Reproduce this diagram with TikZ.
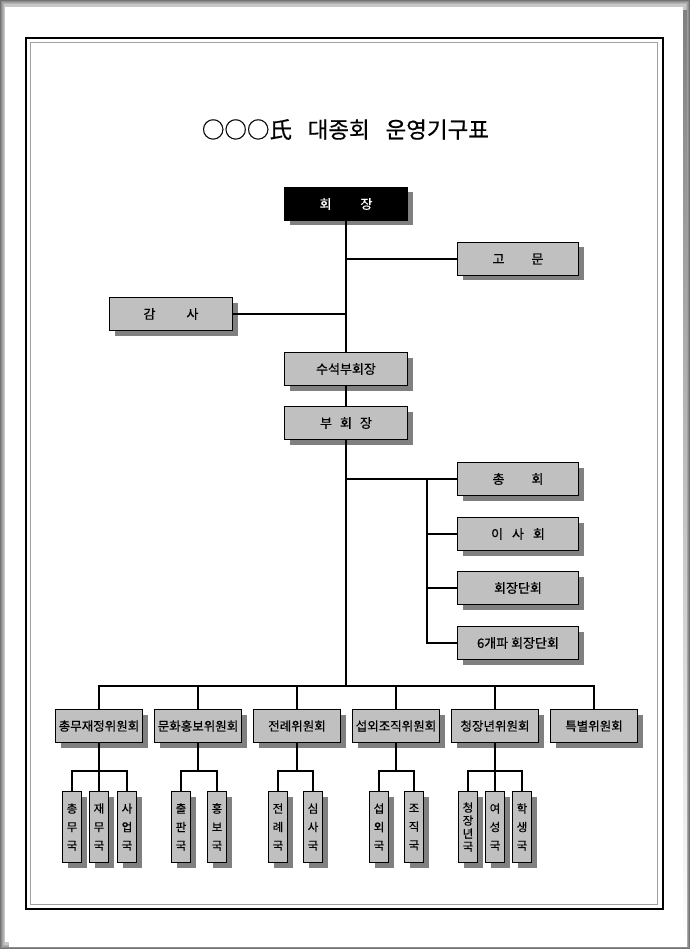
\documentclass[tikz,border=0pt]{standalone}
\usepackage{fontspec}
\setmainfont{Noto Sans CJK KR}[FakeBold=0.5]
\usetikzlibrary{shadows}
\definecolor{ink}{HTML}{000000}
\definecolor{panel}{HTML}{C0C0C0}
\definecolor{shade}{HTML}{808080}
\definecolor{rim}{HTML}{A0A0A0}
\tikzset{link/.style={draw=ink,line width=2pt},
  post/.style={draw=ink,fill=panel,line width=1pt,inner sep=0pt,
    drop shadow={fill=shade,opacity=1,draw=none,shadow xshift=5pt,shadow yshift=-5pt}},
  upper/.style={post,minimum width=123pt,minimum height=33pt,font=\fontsize{13}{15}\selectfont},
  chief/.style={upper,fill=ink,text=white},
  cmte/.style={post,minimum width=87pt,minimum height=33pt,font=\fontsize{12.5}{14}\selectfont},
  dept/.style={post,minimum width=19pt,minimum height=71pt,align=center,font=\fontsize{11.5}{18.5}\selectfont}}

\begin{document}
\begin{tikzpicture}[x=1pt,y=-1pt]
  \useasboundingbox (0,0) rectangle (690,949);
  \fill[black!22] (0,0) rectangle (690,949);
  \foreach \k/\g in {0.5/55,1.5/45,2.5/37,3.5/30}
    \draw[black!\g,line width=1pt] (\k,\k) rectangle (690-\k,949-\k);
  \fill[shade] (9,11) rectangle (687,946);
  \fill[white] (5,7) rectangle (683,942);
  \draw[ink,line width=2pt] (25.8,38.3) rectangle (662.8,908.7);
  \draw[rim,line width=1.3pt] (30.2,42.5) rectangle (657.5,904.8);

  \node (title) at (345.5,129.5) {\fontsize{22.5}{26}\selectfont ○○○氏\hspace{0.7em}대종회\hspace{0.7em}운영기구표};

  \node[chief] (chair) at (346,204) {회\hspace{29pt}장};
  \node[upper,minimum width=121pt] (adv) at (518,259) {고\hspace{27pt}문};
  \node[upper] (audit) at (171,314) {감\hspace{31pt}사};
  \node[upper] (svp) at (346,369) {수석부회장};
  \node[upper] (vp) at (346,423) {부\hspace{8pt}회\hspace{8pt}장};
  \node[upper,minimum width=121pt] (gen) at (518,479) {총\hspace{27pt}회};
  \node[upper,minimum width=121pt] (board) at (518,534) {이\hspace{9pt}사\hspace{9pt}회};
  \node[upper,minimum width=121pt] (exec) at (518,588) {회장단회};
  \node[upper,minimum width=121pt] (six) at (518,643) {6개파 회장단회};

  \node[cmte] (c1) at (99,726) {총무재정위원회};
  \node[cmte] (c2) at (198,726) {문화홍보위원회};
  \node[cmte] (c3) at (297,726) {전례위원회};
  \node[cmte] (c4) at (396,726) {섭외조직위원회};
  \node[cmte] (c5) at (495,726) {청장년위원회};
  \node[cmte] (c6) at (594,726) {특별위원회};

  \node[dept] (d11) at (72,827) {총\\무\\국};
  \node[dept] (d12) at (99,827) {재\\무\\국};
  \node[dept] (d13) at (127,827) {사\\업\\국};
  \node[dept] (d21) at (181,827) {출\\판\\국};
  \node[dept] (d22) at (217,827) {홍\\보\\국};
  \node[dept] (d31) at (278,827) {전\\례\\국};
  \node[dept] (d32) at (313,827) {심\\사\\국};
  \node[dept] (d41) at (379,827) {섭\\외\\국};
  \node[dept] (d42) at (414,827) {조\\직\\국};
  \node[dept,font=\fontsize{11.5}{13}\selectfont] (d51) at (468,827) {청\\장\\년\\국};
  \node[dept] (d52) at (495,827) {여\\성\\국};
  \node[dept] (d53) at (522,827) {학\\생\\국};

  \coordinate (fork) at (427,479);
  \coordinate (bus) at (346,686);
  \coordinate (j1) at (99,771);
  \coordinate (j2) at (198,771);
  \coordinate (j3) at (297,771);
  \coordinate (j4) at (396,771);
  \coordinate (j5) at (495,771);

  \draw[link] (chair) -- (svp);
  \draw[link] (svp) -- (vp);
  \draw[link] (adv.west) -- (adv.west -| chair.south);
  \draw[link] (audit.east) -- (audit.east -| chair.south);
  \draw[link] (gen.west -| vp.south) -- (gen.west);
  \draw[link] (fork) |- (six.west);
  \draw[link] (fork |- board.west) -- (board.west);
  \draw[link] (fork |- exec.west) -- (exec.west);
  \draw[link] (vp.south) -- (bus);
  \draw[link] (c1.north) |- (bus) -| (c6.north);
  \foreach \c in {c2,c3,c4,c5}
    \draw[link] (\c.north) -- (\c.north |- bus);

  \draw[link] (c1.south) -- (d12.north);
  \draw[link] (d11.north) |- (j1) -| (d13.north);
  \draw[link] (c2.south) -- (j2);
  \draw[link] (d21.north) |- (j2) -| (d22.north);
  \draw[link] (c3.south) -- (j3);
  \draw[link] (d31.north) |- (j3) -| (d32.north);
  \draw[link] (c4.south) -- (j4);
  \draw[link] (d41.north) |- (j4) -| (d42.north);
  \draw[link] (c5.south) -- (d52.north);
  \draw[link] (d51.north) |- (j5) -| (d53.north);
\end{tikzpicture}
\end{document}
